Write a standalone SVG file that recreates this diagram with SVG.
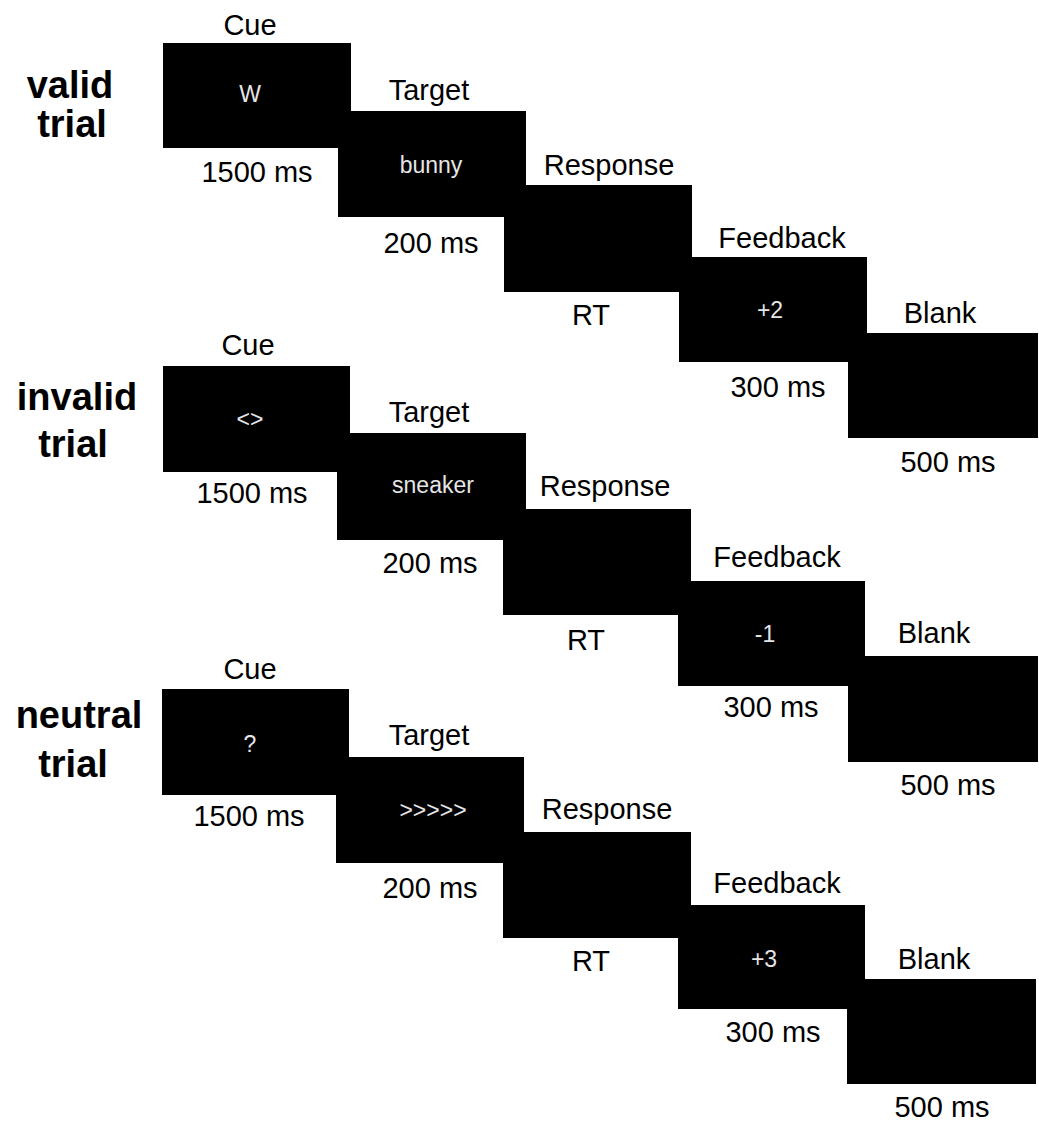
<svg xmlns="http://www.w3.org/2000/svg" width="1039" height="1123" viewBox="0 0 1039 1123">
<style>
  .box { fill: #000; }
  .lbl { font-family: "Liberation Sans", Arial, sans-serif; font-size: 29px; fill: #000; text-anchor: middle; }
  .in { font-family: "Liberation Sans", Arial, sans-serif; font-size: 23px; fill: #e6e6e6; text-anchor: middle; }
  .row { font-family: "Liberation Sans", Arial, sans-serif; font-size: 38px; font-weight: bold; fill: #000; text-anchor: middle; }
</style>
<rect x="0" y="0" width="1039" height="1123" fill="#fff"/>

<!-- Row 1: valid trial -->
<g id="label-valid">
  <text class="row" x="70" y="98">valid</text>
  <text class="row" x="72" y="137">trial</text>
</g>
<g id="valid-cue">
  <text class="lbl" x="250" y="35">Cue</text>
  <rect class="box" x="163" y="43" width="188" height="105"/>
  <text class="in" x="250" y="102">W</text>
  <text class="lbl" x="257" y="182">1500 ms</text>
</g>
<g id="valid-target">
  <text class="lbl" x="429" y="100">Target</text>
  <rect class="box" x="338" y="111" width="188" height="106"/>
  <text class="in" x="431" y="173">bunny</text>
  <text class="lbl" x="431" y="253">200 ms</text>
</g>
<g id="valid-response">
  <text class="lbl" x="609" y="175">Response</text>
  <rect class="box" x="504" y="185" width="188" height="107"/>
  <text class="lbl" x="591" y="325">RT</text>
</g>
<g id="valid-feedback">
  <text class="lbl" x="782" y="248">Feedback</text>
  <rect class="box" x="679" y="257" width="188" height="105"/>
  <text class="in" x="770" y="318">+2</text>
  <text class="lbl" x="778" y="397">300 ms</text>
</g>
<g id="valid-blank">
  <text class="lbl" x="940" y="323">Blank</text>
  <rect class="box" x="848" y="333" width="190" height="105"/>
  <text class="lbl" x="948" y="472">500 ms</text>
</g>

<!-- Row 2: invalid trial -->
<g id="label-invalid">
  <text class="row" x="77" y="410">invalid</text>
  <text class="row" x="73" y="457">trial</text>
</g>
<g id="invalid-cue">
  <text class="lbl" x="248" y="355">Cue</text>
  <rect class="box" x="163" y="366" width="187" height="106"/>
  <text class="in" x="250" y="427">&lt;&gt;</text>
  <text class="lbl" x="252" y="503">1500 ms</text>
</g>
<g id="invalid-target">
  <text class="lbl" x="429" y="422">Target</text>
  <rect class="box" x="337" y="433" width="189" height="107"/>
  <text class="in" x="433" y="493">sneaker</text>
  <text class="lbl" x="430" y="573">200 ms</text>
</g>
<g id="invalid-response">
  <text class="lbl" x="605" y="496">Response</text>
  <rect class="box" x="503" y="509" width="188" height="106"/>
  <text class="lbl" x="586" y="650">RT</text>
</g>
<g id="invalid-feedback">
  <text class="lbl" x="777" y="567">Feedback</text>
  <rect class="box" x="678" y="581" width="187" height="105"/>
  <text class="in" x="765" y="642">-1</text>
  <text class="lbl" x="771" y="717">300 ms</text>
</g>
<g id="invalid-blank">
  <text class="lbl" x="934" y="643">Blank</text>
  <rect class="box" x="848" y="656" width="190" height="106"/>
  <text class="lbl" x="948" y="795">500 ms</text>
</g>

<!-- Row 3: neutral trial -->
<g id="label-neutral">
  <text class="row" x="79" y="728">neutral</text>
  <text class="row" x="73" y="777">trial</text>
</g>
<g id="neutral-cue">
  <text class="lbl" x="250" y="679">Cue</text>
  <rect class="box" x="162" y="689" width="187" height="106"/>
  <text class="in" x="250" y="752">?</text>
  <text class="lbl" x="249" y="826">1500 ms</text>
</g>
<g id="neutral-target">
  <text class="lbl" x="429" y="745">Target</text>
  <rect class="box" x="336" y="757" width="188" height="106"/>
  <text class="in" x="433" y="818">&gt;&gt;&gt;&gt;&gt;</text>
  <text class="lbl" x="430" y="898">200 ms</text>
</g>
<g id="neutral-response">
  <text class="lbl" x="607" y="819">Response</text>
  <rect class="box" x="503" y="832" width="188" height="106"/>
  <text class="lbl" x="591" y="971">RT</text>
</g>
<g id="neutral-feedback">
  <text class="lbl" x="777" y="893">Feedback</text>
  <rect class="box" x="678" y="905" width="187" height="104"/>
  <text class="in" x="764" y="967">+3</text>
  <text class="lbl" x="773" y="1042">300 ms</text>
</g>
<g id="neutral-blank">
  <text class="lbl" x="934" y="969">Blank</text>
  <rect class="box" x="847" y="979" width="189" height="105"/>
  <text class="lbl" x="942" y="1117">500 ms</text>
</g>
</svg>
